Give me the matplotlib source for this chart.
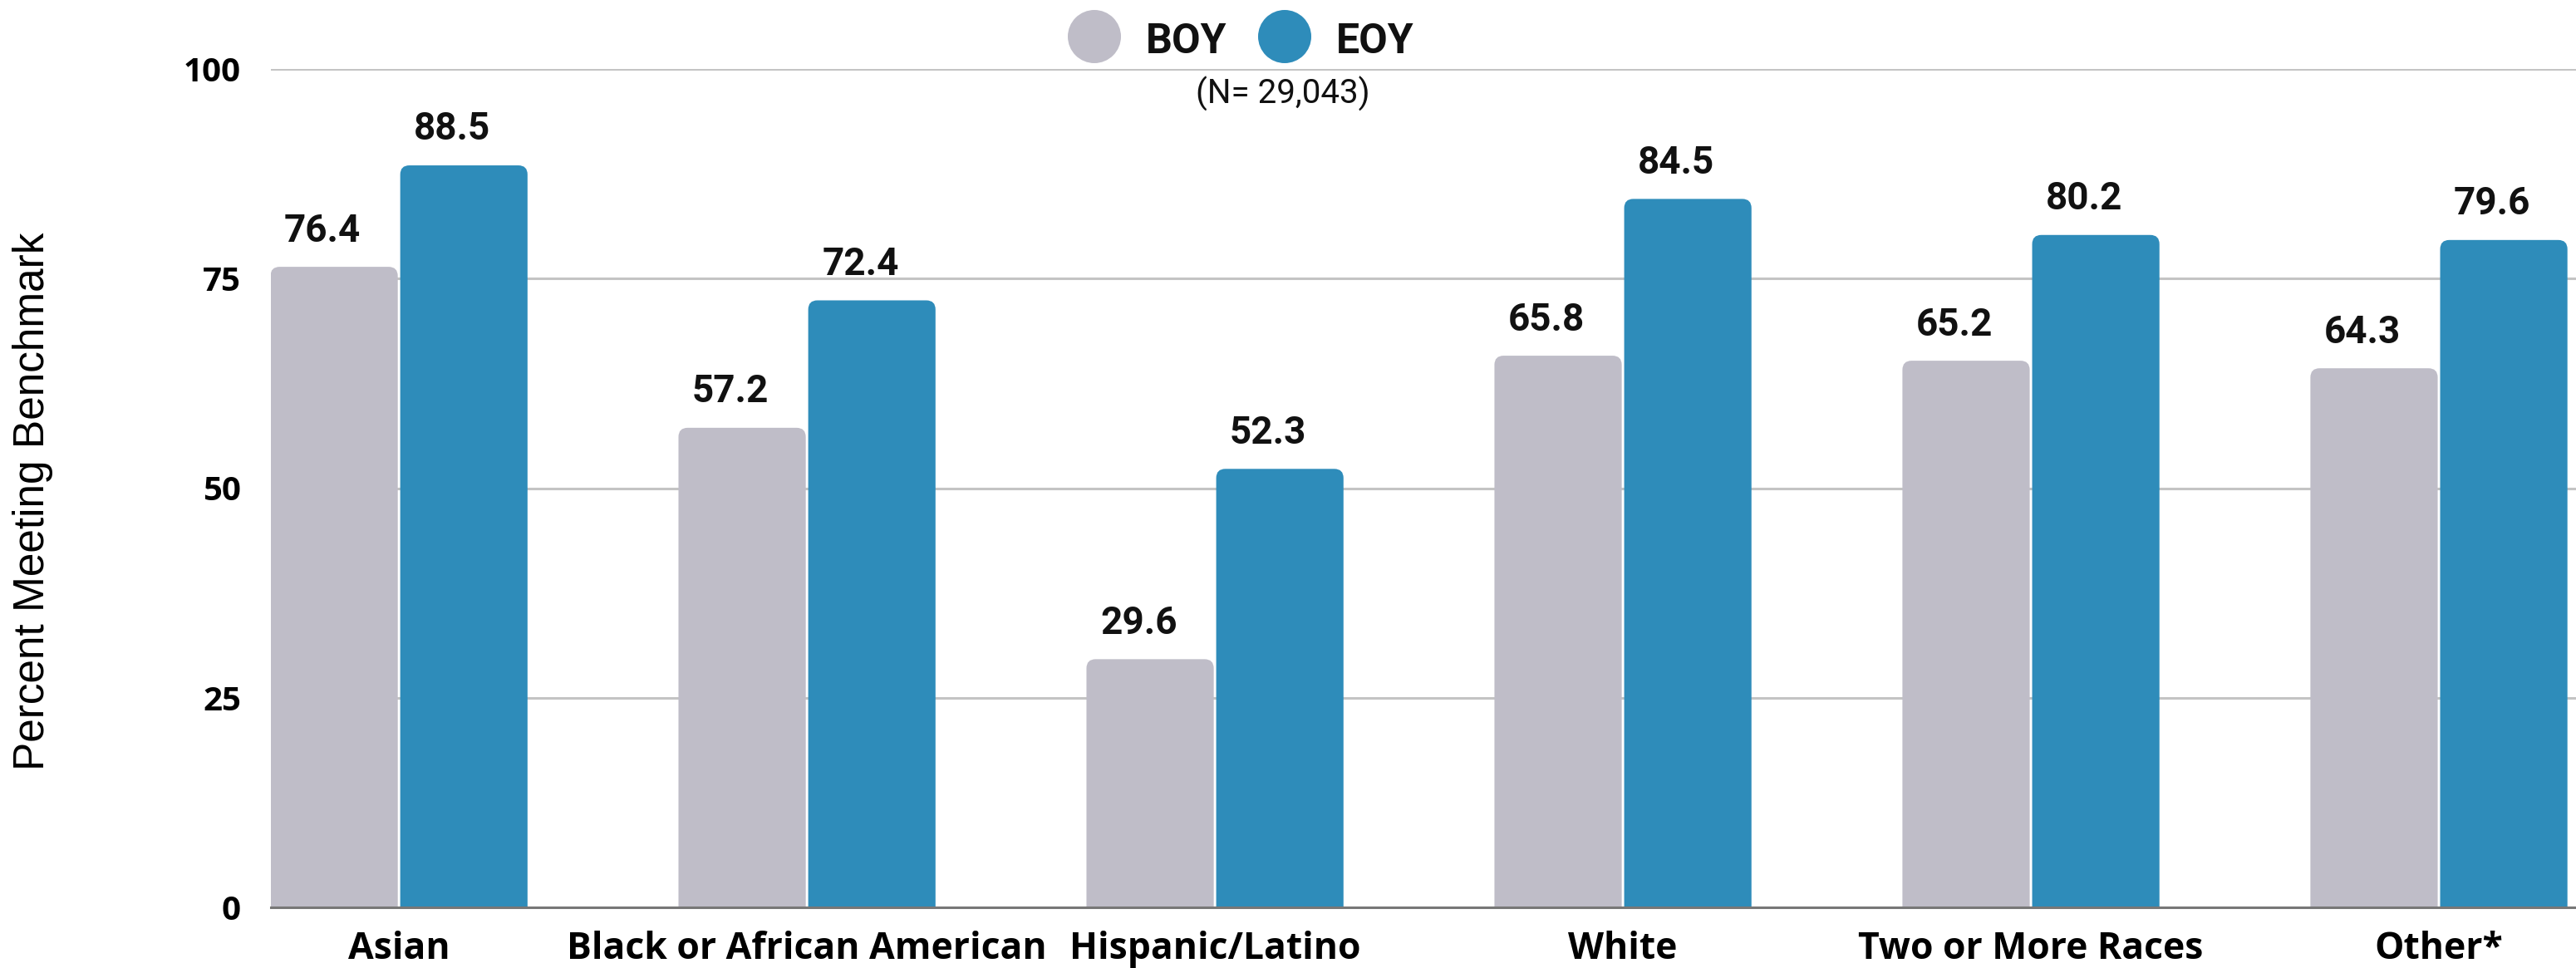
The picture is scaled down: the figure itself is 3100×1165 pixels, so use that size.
import numpy as np
import matplotlib
matplotlib.use("Agg")
import matplotlib.pyplot as plt
from matplotlib.patches import FancyBboxPatch, Ellipse

groups = ["Asian", "Black or African American", "Hispanic/Latino", "White",
          "Two or More Races", "Other*"]
boy = [76.4, 57.2, 29.6, 65.8, 65.2, 64.3]
eoy = [88.5, 72.4, 52.3, 84.5, 80.2, 79.6]
series_names = ["BOY", "EOY"]
series_colors = ["#bfbdc8", "#2e8cba"]
yticks = [0, 25, 50, 75, 100]
n_note = "(N= 29,043)"

W, H = 3100, 1165
fig = plt.figure(figsize=(W / 100, H / 100), dpi=100)
ax = fig.add_axes([326 / W, 1 - 1092 / H, 1 - 326 / W, (1092 - 83) / H])

x = np.arange(len(groups))
bw = 0.312
gap = 0.003
ax.set_xlim(-0.314, len(groups) - 1 + 0.336)
ax.set_ylim(0, 100)

# pixel scale for rounded corners
px_x = (1 - 326 / W) * W / (ax.get_xlim()[1] - ax.get_xlim()[0])
px_y = (1092 - 83) / 100.0
radius = 11 / px_x

for vals, color, off in [(boy, series_colors[0], -(gap + bw / 2)),
                         (eoy, series_colors[1], gap + bw / 2)]:
    for xi, v in zip(x, vals):
        left = xi + off - bw / 2
        p = FancyBboxPatch((left, -5), bw, v + 5,
                           boxstyle=f"round,pad=0,rounding_size={radius}",
                           mutation_aspect=px_x / px_y,
                           facecolor=color, edgecolor="none", zorder=3)
        ax.add_patch(p)
        ax.annotate(f"{v:.1f}", (xi + off, v), xytext=(-10, 22), textcoords="offset points",
                    ha="center", va="baseline", fontsize=33, fontweight="bold",
                    family="Roboto", color="#111111")

ax.set_yticks(yticks)
ax.set_yticklabels([str(t) for t in yticks], fontsize=29, fontweight="bold",
                   family="Open Sans")
ax.set_xticks(x)
ax.set_xticklabels(groups, fontsize=32, fontweight="bold", family="Open Sans")
ax.tick_params(axis="y", length=0, pad=26)
ax.tick_params(axis="x", length=0, pad=20)
ax.grid(axis="y", color="#c4c4c4", linewidth=2.2, zorder=0)
ax.set_axisbelow(True)
for s in ["top", "right", "left"]:
    ax.spines[s].set_visible(False)
ax.spines["bottom"].set_color("#777777")
ax.spines["bottom"].set_linewidth(2.2)
ax.spines["bottom"].set_zorder(4)

fig.text(40 / W, 1 - 603 / H, "Percent Meeting Benchmark", rotation=90,
         ha="center", va="center", fontsize=37, family="Liberation Sans")

# legend
for cx, tx, name, color in [(1317, 1379, series_names[0], series_colors[0]),
                            (1546, 1608, series_names[1], series_colors[1])]:
    fig.add_artist(Ellipse((cx / W, 1 - 44 / H), 64 / W, 64 / H,
                           transform=fig.transFigure, facecolor=color, edgecolor="none"))
    fig.text(tx / W, 1 - 64 / H, name, ha="left", va="baseline",
             fontsize=36, fontweight="bold", family="Roboto", color="#111111")

fig.text(1544 / W, 1 - 113 / H, n_note, ha="center", va="center",
         fontsize=29, family="Roboto", color="#111111")

fig.savefig("out.png", dpi=100, facecolor="white")
